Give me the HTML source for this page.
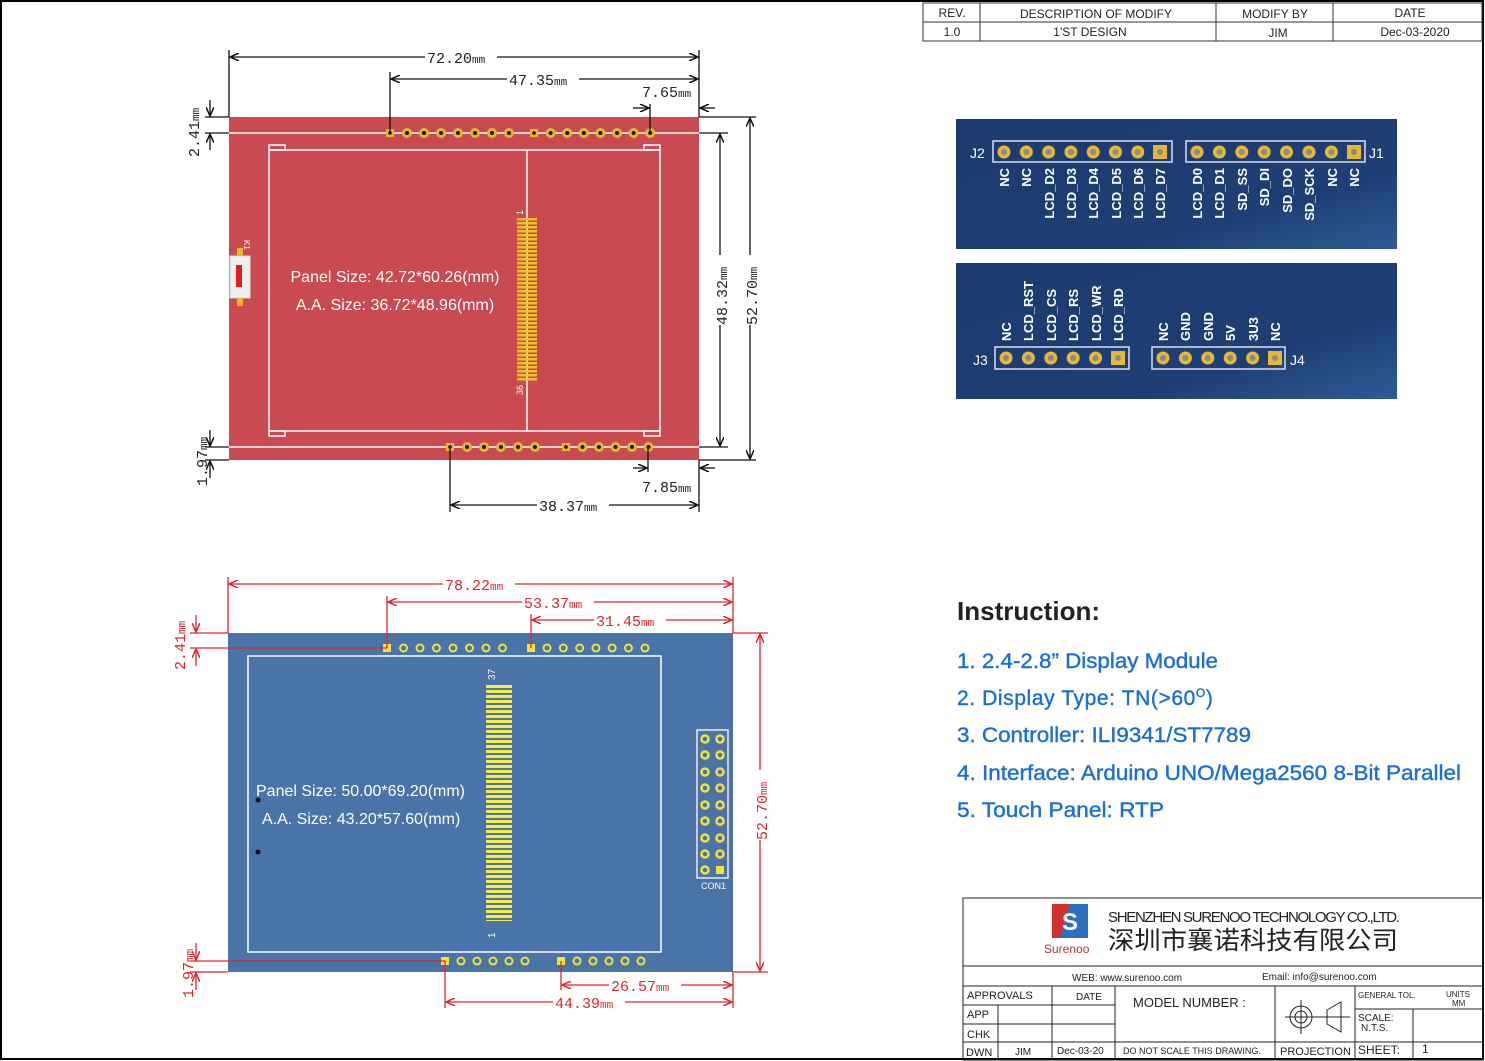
<!DOCTYPE html>
<html><head><meta charset="utf-8"><style>
html,body{margin:0;padding:0;background:#fff;}
svg{display:block;}
.m{font-family:"Liberation Mono",monospace;font-size:15px;fill:#222;}
.mr{font-family:"Liberation Mono",monospace;font-size:15px;fill:#e0262a;}
.s{font-family:"Liberation Sans",sans-serif;}
</style></head><body>
<svg width="1485" height="1061" viewBox="0 0 1485 1061" xmlns="http://www.w3.org/2000/svg" xmlns:xlink="http://www.w3.org/1999/xlink">
<defs>
<g id="rp"><circle r="5" fill="#e8b820"/><circle r="2" fill="#111"/></g>
<g id="rs"><rect x="-4" y="-4" width="8" height="8" fill="#e8b820"/><circle r="1.8" fill="#111"/></g>
<g id="bp"><circle r="4.5" fill="#f3e23a"/><circle r="2.5" fill="#4a73a8"/></g>
<g id="bs"><rect x="-4" y="-4" width="8" height="8" fill="#f3e23a"/></g>
<g id="np"><circle r="6.5" fill="#e8b830"/><circle r="3" fill="#8a8a8a"/></g>
<g id="ns"><rect x="-7" y="-7" width="14" height="14" fill="#e8b830"/><circle r="3" fill="#8a8a8a"/></g>
<pattern id="fr" x="517" y="218" width="20" height="4" patternUnits="userSpaceOnUse"><rect width="20" height="2.5" fill="#f0c030"/></pattern>
<pattern id="fb" x="486" y="685" width="26" height="5" patternUnits="userSpaceOnUse"><rect width="26" height="3" fill="#f5ee40"/></pattern>
<marker id="a" markerWidth="10" markerHeight="8" refX="9" refY="4" orient="auto-start-reverse" markerUnits="userSpaceOnUse"><path d="M0,0 L9,4 L0,8" fill="none" stroke="#111" stroke-width="1.5"/></marker>
<marker id="ar" markerWidth="10" markerHeight="8" refX="9" refY="4" orient="auto-start-reverse" markerUnits="userSpaceOnUse"><path d="M0,0 L9,4 L0,8" fill="none" stroke="#e0262a" stroke-width="1.5"/></marker>
<linearGradient id="ng" x1="0" y1="0" x2="1" y2="1"><stop offset="0" stop-color="#1c3a6e"/><stop offset="0.7" stop-color="#1e3f75"/><stop offset="1" stop-color="#2f5a95"/></linearGradient>
</defs>
<rect x="1" y="1" width="1482" height="1058" fill="#fff" stroke="#000" stroke-width="2"/>

<!-- revision table -->
<g class="s" font-size="12" fill="#222" text-anchor="middle">
<rect x="923" y="3" width="559" height="38" fill="none" stroke="#333"/>
<line x1="923" y1="22" x2="1482" y2="22" stroke="#333"/>
<line x1="980" y1="3" x2="980" y2="41" stroke="#333"/><line x1="1216" y1="3" x2="1216" y2="41" stroke="#333"/><line x1="1333" y1="3" x2="1333" y2="41" stroke="#333"/>
<text x="952" y="17">REV.</text><text x="1096" y="18">DESCRIPTION OF MODIFY</text><text x="1275" y="18">MODIFY BY</text><text x="1410" y="17">DATE</text>
<text x="952" y="36">1.0</text><text x="1090" y="36">1'ST DESIGN</text><text x="1278" y="37">JIM</text><text x="1415" y="36">Dec-03-2020</text>
</g>

<!-- RED BOARD -->
<rect x="229" y="117" width="470" height="343" fill="#c94b51"/>
<g stroke="#fff" stroke-width="1.5" fill="none">
<line x1="229" y1="133" x2="699" y2="133"/><line x1="229" y1="447" x2="699" y2="447"/>
<rect x="269" y="150" width="391" height="281"/>
<rect x="269" y="145" width="16" height="5"/><rect x="644" y="145" width="16" height="5"/>
<rect x="269" y="431" width="16" height="5"/><rect x="644" y="431" width="16" height="5"/>
<line x1="527" y1="150" x2="527" y2="431"/>
</g>
<use xlink:href="#rs" x="390" y="133"/><use xlink:href="#rp" x="407" y="133"/><use xlink:href="#rp" x="424" y="133"/><use xlink:href="#rp" x="441" y="133"/><use xlink:href="#rp" x="458" y="133"/><use xlink:href="#rp" x="475" y="133"/><use xlink:href="#rp" x="492" y="133"/><use xlink:href="#rp" x="509" y="133"/>
<use xlink:href="#rs" x="534" y="133"/><use xlink:href="#rp" x="550.6" y="133"/><use xlink:href="#rp" x="567.2" y="133"/><use xlink:href="#rp" x="583.8" y="133"/><use xlink:href="#rp" x="600.4" y="133"/><use xlink:href="#rp" x="617" y="133"/><use xlink:href="#rp" x="633.6" y="133"/><use xlink:href="#rp" x="650.2" y="133"/>
<use xlink:href="#rs" x="450" y="447"/><use xlink:href="#rp" x="467" y="447"/><use xlink:href="#rp" x="484" y="447"/><use xlink:href="#rp" x="501" y="447"/><use xlink:href="#rp" x="518" y="447"/><use xlink:href="#rp" x="535" y="447"/>
<use xlink:href="#rs" x="566" y="447"/><use xlink:href="#rp" x="582.5" y="447"/><use xlink:href="#rp" x="599" y="447"/><use xlink:href="#rp" x="615.5" y="447"/><use xlink:href="#rp" x="632" y="447"/><use xlink:href="#rp" x="648.5" y="447"/>
<rect x="517" y="218" width="20" height="164" fill="url(#fr)"/>
<text x="523" y="215" font-size="9" fill="#fff" class="s" transform="rotate(-90 523 215)">1</text>
<text x="523" y="395" font-size="9" fill="#fff" class="s" transform="rotate(-90 523 395)">36</text>
<rect x="230" y="256" width="20" height="42" fill="#eee" stroke="#ddd"/><rect x="236" y="265" width="6" height="22" fill="#e02020"/>
<rect x="237" y="248" width="6" height="8" fill="#e8b820"/><rect x="237" y="298" width="6" height="8" fill="#e8b820"/>
<text x="244" y="240" font-size="8" fill="#fff" class="s" transform="rotate(90 244 240)">K1</text>
<text x="395" y="282" class="s" font-size="16" fill="#fff" text-anchor="middle">Panel Size: 42.72*60.26(mm)</text>
<text x="395" y="310" class="s" font-size="16" fill="#fff" text-anchor="middle">A.A. Size: 36.72*48.96(mm)</text>

<!-- red board dims -->
<g stroke="#111" stroke-width="1.3" fill="none">
<line x1="229" y1="50" x2="229" y2="117"/><line x1="699" y1="50" x2="699" y2="117"/><line x1="390" y1="72" x2="390" y2="133"/>
<line x1="230" y1="57" x2="698" y2="57" marker-start="url(#a)" marker-end="url(#a)"/>
<line x1="391" y1="79" x2="698" y2="79" marker-start="url(#a)" marker-end="url(#a)"/>
<line x1="650" y1="104" x2="650" y2="133"/>
<line x1="633" y1="108" x2="649" y2="108" marker-end="url(#a)"/><line x1="715" y1="108" x2="700" y2="108" marker-end="url(#a)"/>
<line x1="699" y1="117" x2="756" y2="117"/><line x1="699" y1="133" x2="728" y2="133"/><line x1="699" y1="447" x2="728" y2="447"/><line x1="699" y1="460" x2="756" y2="460"/>
<line x1="720" y1="134" x2="720" y2="446" marker-start="url(#a)" marker-end="url(#a)"/>
<line x1="750" y1="118" x2="750" y2="459" marker-start="url(#a)" marker-end="url(#a)"/>
<line x1="205" y1="117" x2="229" y2="117"/><line x1="205" y1="133" x2="229" y2="133"/>
<line x1="210" y1="100" x2="210" y2="116" marker-end="url(#a)"/><line x1="210" y1="150" x2="210" y2="134" marker-end="url(#a)"/>
<line x1="205" y1="447" x2="229" y2="447"/><line x1="205" y1="460" x2="229" y2="460"/>
<line x1="210" y1="430" x2="210" y2="446" marker-end="url(#a)"/><line x1="210" y1="478" x2="210" y2="461" marker-end="url(#a)"/>
<line x1="450" y1="447" x2="450" y2="512"/><line x1="699" y1="460" x2="699" y2="512"/><line x1="648" y1="447" x2="648" y2="472"/>
<line x1="633" y1="468" x2="647" y2="468" marker-end="url(#a)"/><line x1="715" y1="468" x2="700" y2="468" marker-end="url(#a)"/>
<line x1="451" y1="505" x2="698" y2="505" marker-start="url(#a)" marker-end="url(#a)"/>
</g>
<g class="m">
<rect x="425" y="49" width="72" height="16" fill="#fff"/><text x="427" y="63">72.20<tspan font-size="11">mm</tspan></text>
<rect x="507" y="71" width="72" height="16" fill="#fff"/><text x="509" y="85">47.35<tspan font-size="11">mm</tspan></text>
<text x="642" y="97">7.65<tspan font-size="11">mm</tspan></text>
<text x="642" y="492">7.85<tspan font-size="11">mm</tspan></text>
<rect x="537" y="497" width="72" height="16" fill="#fff"/><text x="539" y="511">38.37<tspan font-size="11">mm</tspan></text>
<rect x="713" y="255" width="16" height="70" fill="#fff"/><text x="727" y="325" transform="rotate(-90 727 325)">48.32<tspan font-size="11">mm</tspan></text>
<rect x="743" y="255" width="16" height="70" fill="#fff"/><text x="757" y="325" transform="rotate(-90 757 325)">52.70<tspan font-size="11">mm</tspan></text>
<text x="199" y="157" transform="rotate(-90 199 157)">2.41<tspan font-size="11">mm</tspan></text>
<text x="207" y="486" transform="rotate(-90 207 486)">1.97<tspan font-size="11">mm</tspan></text>
</g>

<!-- BLUE BOARD -->
<rect x="228" y="633" width="505" height="339" fill="#4a73a8"/>
<rect x="248" y="656" width="413" height="296" fill="none" stroke="#fff" stroke-width="1.5"/>
<use xlink:href="#bs" x="387" y="648"/><use xlink:href="#bp" x="403.5" y="648"/><use xlink:href="#bp" x="420" y="648"/><use xlink:href="#bp" x="436.5" y="648"/><use xlink:href="#bp" x="453" y="648"/><use xlink:href="#bp" x="469.5" y="648"/><use xlink:href="#bp" x="486" y="648"/><use xlink:href="#bp" x="502.5" y="648"/>
<use xlink:href="#bs" x="531" y="648"/><use xlink:href="#bp" x="547" y="648"/><use xlink:href="#bp" x="563.3" y="648"/><use xlink:href="#bp" x="579.6" y="648"/><use xlink:href="#bp" x="595.9" y="648"/><use xlink:href="#bp" x="612.2" y="648"/><use xlink:href="#bp" x="628.5" y="648"/><use xlink:href="#bp" x="645" y="648"/>
<use xlink:href="#bs" x="445" y="961"/><use xlink:href="#bp" x="461" y="961"/><use xlink:href="#bp" x="477" y="961"/><use xlink:href="#bp" x="493" y="961"/><use xlink:href="#bp" x="509" y="961"/><use xlink:href="#bp" x="525" y="961"/>
<use xlink:href="#bs" x="561" y="961"/><use xlink:href="#bp" x="577" y="961"/><use xlink:href="#bp" x="593" y="961"/><use xlink:href="#bp" x="609" y="961"/><use xlink:href="#bp" x="625" y="961"/><use xlink:href="#bp" x="641" y="961"/>
<rect x="486" y="685" width="26" height="236" fill="url(#fb)"/>
<text x="495" y="680" font-size="10" fill="#fff" class="s" transform="rotate(-90 495 680)">37</text>
<text x="495" y="938" font-size="10" fill="#fff" class="s" transform="rotate(-90 495 938)">1</text>
<rect x="697" y="730" width="31" height="148" fill="none" stroke="#fff" stroke-width="1.3"/>
<g fill="none" stroke="#f3e23a" stroke-width="2.5">
<circle cx="705" cy="739" r="3.5"/><circle cx="720" cy="739" r="3.5"/><circle cx="705" cy="755" r="3.5"/><circle cx="720" cy="755" r="3.5"/>
<circle cx="705" cy="772" r="3.5"/><circle cx="720" cy="772" r="3.5"/><circle cx="705" cy="788" r="3.5"/><circle cx="720" cy="788" r="3.5"/>
<circle cx="705" cy="805" r="3.5"/><circle cx="720" cy="805" r="3.5"/><circle cx="705" cy="821" r="3.5"/><circle cx="720" cy="821" r="3.5"/>
<circle cx="705" cy="838" r="3.5"/><circle cx="720" cy="838" r="3.5"/><circle cx="705" cy="854" r="3.5"/><circle cx="720" cy="854" r="3.5"/>
<circle cx="705" cy="870" r="3.5"/></g>
<rect x="716" y="866" width="8" height="8" fill="#f3e23a"/>
<text x="701" y="889" font-size="9" fill="#fff" class="s">CON1</text>
<text x="256" y="796" class="s" font-size="16" fill="#fff">Panel Size: 50.00*69.20(mm)</text>
<text x="262" y="824" class="s" font-size="16" fill="#fff">A.A. Size: 43.20*57.60(mm)</text>
<circle cx="258" cy="800" r="2.5" fill="#111"/><circle cx="258" cy="852" r="2.5" fill="#111"/>

<g stroke="#e0262a" stroke-width="1.3" fill="none">
<line x1="228" y1="577" x2="228" y2="633"/><line x1="733" y1="577" x2="733" y2="633"/>
<line x1="387" y1="596" x2="387" y2="648"/><line x1="531" y1="614" x2="531" y2="648"/>
<line x1="229" y1="584" x2="732" y2="584" marker-start="url(#ar)" marker-end="url(#ar)"/>
<line x1="388" y1="602" x2="732" y2="602" marker-start="url(#ar)" marker-end="url(#ar)"/>
<line x1="532" y1="620" x2="732" y2="620" marker-start="url(#ar)" marker-end="url(#ar)"/>
<line x1="733" y1="633" x2="768" y2="633"/><line x1="733" y1="972" x2="768" y2="972"/>
<line x1="760" y1="634" x2="760" y2="971" marker-start="url(#ar)" marker-end="url(#ar)"/>
<line x1="190" y1="633" x2="228" y2="633"/><line x1="190" y1="648" x2="387" y2="648"/>
<line x1="196" y1="615" x2="196" y2="632" marker-end="url(#ar)"/><line x1="196" y1="666" x2="196" y2="649" marker-end="url(#ar)"/>
<line x1="190" y1="961" x2="445" y2="961"/><line x1="190" y1="972" x2="228" y2="972"/>
<line x1="196" y1="943" x2="196" y2="960" marker-end="url(#ar)"/><line x1="196" y1="990" x2="196" y2="973" marker-end="url(#ar)"/>
<line x1="445" y1="961" x2="445" y2="1008"/><line x1="561" y1="961" x2="561" y2="990"/><line x1="733" y1="972" x2="733" y2="1008"/>
<line x1="562" y1="985" x2="732" y2="985" marker-start="url(#ar)" marker-end="url(#ar)"/>
<line x1="446" y1="1002" x2="732" y2="1002" marker-start="url(#ar)" marker-end="url(#ar)"/>
</g>
<g class="mr">
<rect x="443" y="576" width="72" height="16" fill="#fff"/><text x="445" y="590">78.22<tspan font-size="11">mm</tspan></text>
<rect x="522" y="594" width="72" height="16" fill="#fff"/><text x="524" y="608">53.37<tspan font-size="11">mm</tspan></text>
<rect x="594" y="612" width="72" height="16" fill="#fff"/><text x="596" y="626">31.45<tspan font-size="11">mm</tspan></text>
<rect x="609" y="977" width="72" height="16" fill="#fff"/><text x="611" y="991">26.57<tspan font-size="11">mm</tspan></text>
<rect x="553" y="994" width="72" height="16" fill="#fff"/><text x="555" y="1008">44.39<tspan font-size="11">mm</tspan></text>
<rect x="753" y="770" width="16" height="70" fill="#fff"/><text x="767" y="840" transform="rotate(-90 767 840)">52.70<tspan font-size="11">mm</tspan></text>
<text x="185" y="670" transform="rotate(-90 185 670)">2.41<tspan font-size="11">mm</tspan></text>
<text x="193" y="998" transform="rotate(-90 193 998)">1.97<tspan font-size="11">mm</tspan></text>
</g>

<!-- PIN PANELS -->
<rect x="956" y="119" width="441" height="130" fill="url(#ng)"/>
<rect x="956" y="263" width="441" height="136" fill="url(#ng)"/>
<g fill="none" stroke="#dde" stroke-width="1.5">
<rect x="993" y="141" width="179" height="21"/><rect x="1186" y="141" width="179" height="21"/>
<rect x="995" y="347" width="134" height="22"/><rect x="1152" y="347" width="133" height="22"/>
</g>
<use xlink:href="#np" x="1004" y="152"/><use xlink:href="#np" x="1026.3" y="152"/><use xlink:href="#np" x="1048.6" y="152"/><use xlink:href="#np" x="1070.9" y="152"/><use xlink:href="#np" x="1093.2" y="152"/><use xlink:href="#np" x="1115.5" y="152"/><use xlink:href="#np" x="1137.8" y="152"/><use xlink:href="#ns" x="1160" y="152"/>
<use xlink:href="#np" x="1197" y="152"/><use xlink:href="#np" x="1219.4" y="152"/><use xlink:href="#np" x="1241.8" y="152"/><use xlink:href="#np" x="1264.2" y="152"/><use xlink:href="#np" x="1286.6" y="152"/><use xlink:href="#np" x="1309" y="152"/><use xlink:href="#np" x="1331.4" y="152"/><use xlink:href="#ns" x="1354" y="152"/>
<use xlink:href="#np" x="1006" y="358"/><use xlink:href="#np" x="1028.4" y="358"/><use xlink:href="#np" x="1050.8" y="358"/><use xlink:href="#np" x="1073.2" y="358"/><use xlink:href="#np" x="1095.6" y="358"/><use xlink:href="#ns" x="1118" y="358"/>
<use xlink:href="#np" x="1163" y="358"/><use xlink:href="#np" x="1185.4" y="358"/><use xlink:href="#np" x="1207.8" y="358"/><use xlink:href="#np" x="1230.2" y="358"/><use xlink:href="#np" x="1252.6" y="358"/><use xlink:href="#ns" x="1275" y="358"/>
<g class="s" font-size="14" fill="#fff">
<text x="970" y="158">J2</text><text x="1369" y="158">J1</text><text x="973" y="365">J3</text><text x="1290" y="365">J4</text>
</g>
<g class="s" font-size="13" fill="#fff" font-weight="bold" text-anchor="end">
<text transform="translate(1009 168) rotate(-90)">NC</text>
<text transform="translate(1031 168) rotate(-90)">NC</text>
<text transform="translate(1054 168) rotate(-90)">LCD_D2</text>
<text transform="translate(1076 168) rotate(-90)">LCD_D3</text>
<text transform="translate(1098 168) rotate(-90)">LCD_D4</text>
<text transform="translate(1121 168) rotate(-90)">LCD_D5</text>
<text transform="translate(1143 168) rotate(-90)">LCD_D6</text>
<text transform="translate(1165 168) rotate(-90)">LCD_D7</text>
<text transform="translate(1202 168) rotate(-90)">LCD_D0</text>
<text transform="translate(1224 168) rotate(-90)">LCD_D1</text>
<text transform="translate(1247 168) rotate(-90)">SD_SS</text>
<text transform="translate(1269 168) rotate(-90)">SD_DI</text>
<text transform="translate(1292 168) rotate(-90)">SD_DO</text>
<text transform="translate(1314 168) rotate(-90)">SD_SCK</text>
<text transform="translate(1337 168) rotate(-90)">NC</text>
<text transform="translate(1359 168) rotate(-90)">NC</text>
</g>
<g class="s" font-size="13" fill="#fff" font-weight="bold">
<text transform="translate(1011 341) rotate(-90)">NC</text>
<text transform="translate(1033 341) rotate(-90)">LCD_RST</text>
<text transform="translate(1056 341) rotate(-90)">LCD_CS</text>
<text transform="translate(1078 341) rotate(-90)">LCD_RS</text>
<text transform="translate(1101 341) rotate(-90)">LCD_WR</text>
<text transform="translate(1123 341) rotate(-90)">LCD_RD</text>
<text transform="translate(1168 341) rotate(-90)">NC</text>
<text transform="translate(1190 341) rotate(-90)">GND</text>
<text transform="translate(1213 341) rotate(-90)">GND</text>
<text transform="translate(1235 341) rotate(-90)">5V</text>
<text transform="translate(1258 341) rotate(-90)">3U3</text>
<text transform="translate(1280 341) rotate(-90)">NC</text>
</g>

<!-- INSTRUCTION -->
<text x="957" y="620" class="s" font-size="26" font-weight="bold" fill="#222">Instruction:</text>
<g class="s" font-size="21" fill="#1a6fd6" stroke="#1a6fd6" stroke-width="0.4">
<text x="957" y="668" textLength="261" lengthAdjust="spacingAndGlyphs">1. 2.4-2.8” Display Module</text>
<text x="957" y="705" letter-spacing="0.6">2. Display Type: TN(&gt;60<tspan font-size="12" dy="-8">O</tspan><tspan dy="8">)</tspan></text>
<text x="957" y="742" textLength="294" lengthAdjust="spacingAndGlyphs">3. Controller: ILI9341/ST7789</text>
<text x="957" y="780" textLength="504" lengthAdjust="spacingAndGlyphs">4. Interface: Arduino UNO/Mega2560 8-Bit Parallel</text>
<text x="957" y="817" textLength="207" lengthAdjust="spacingAndGlyphs">5. Touch Panel: RTP</text>
</g>

<!-- TITLE BLOCK -->
<g stroke="#222" stroke-width="1" fill="none">
<rect x="963" y="898" width="520" height="162"/>
<line x1="963" y1="966" x2="1483" y2="966"/><line x1="963" y1="986" x2="1483" y2="986"/>
<line x1="1052" y1="986" x2="1052" y2="1060"/><line x1="1115" y1="986" x2="1115" y2="1060"/>
<line x1="998" y1="1005" x2="998" y2="1060"/>
<line x1="963" y1="1005" x2="1115" y2="1005"/><line x1="963" y1="1024" x2="1115" y2="1024"/><line x1="963" y1="1042" x2="1483" y2="1042"/>
<line x1="1275" y1="986" x2="1275" y2="1060"/><line x1="1355" y1="986" x2="1355" y2="1060"/>
<line x1="1355" y1="1009" x2="1483" y2="1009"/><line x1="1413" y1="1009" x2="1413" y2="1060"/>
<line x1="1285" y1="1017" x2="1350" y2="1017"/>
<circle cx="1301" cy="1017" r="11"/><circle cx="1301" cy="1017" r="6"/><line x1="1301" y1="1000" x2="1301" y2="1034"/>
<path d="M1327,1010 L1341,1002 L1341,1032 L1327,1024 Z"/>
</g>
<rect x="1052" y="904" width="36" height="34" fill="#d03030"/><path d="M1070,904 L1088,904 L1088,938 L1060,938 Z" fill="#2c70c0"/>
<text x="1070" y="930" text-anchor="middle" class="s" font-size="24" font-weight="bold" fill="#fff">S</text>
<text x="1044" y="953" class="s" font-size="12" fill="#c03030">Surenoo</text>
<text x="1108" y="922" class="s" font-size="15" fill="#222" textLength="292">SHENZHEN SURENOO TECHNOLOGY CO.,LTD.</text>
<text x="1108" y="949" font-family="'Liberation Sans','Noto Sans CJK SC',sans-serif" font-size="25" fill="#222" textLength="290" lengthAdjust="spacingAndGlyphs">深圳市襄诺科技有限公司</text>
<g class="s" fill="#222" font-size="10">
<text x="1072" y="981">WEB: www.surenoo.com</text><text x="1262" y="980">Email: info@surenoo.com</text>
<text x="967" y="999" font-size="11">APPROVALS</text><text x="1076" y="1000">DATE</text>
<text x="1133" y="1007" font-size="13">MODEL NUMBER :</text>
<text x="967" y="1018" font-size="11">APP</text><text x="967" y="1038" font-size="11">CHK</text>
<text x="966" y="1056" font-size="11">DWN</text><text x="1015" y="1055">JIM</text><text x="1057" y="1054">Dec-03-20</text>
<text x="1123" y="1054" font-size="9">DO NOT SCALE THIS DRAWING.</text>
<text x="1280" y="1055" font-size="11">PROJECTION</text>
<text x="1358" y="998" font-size="8">GENERAL TOL.</text><text x="1446" y="997" font-size="8">UNITS</text><text x="1452" y="1006" font-size="8">MM</text>
<text x="1358" y="1021">SCALE:</text><text x="1361" y="1031">N.T.S.</text>
<text x="1358" y="1054" font-size="12">SHEET:</text><text x="1422" y="1053" font-size="12">1</text>
</g>
</svg>
</body></html>
